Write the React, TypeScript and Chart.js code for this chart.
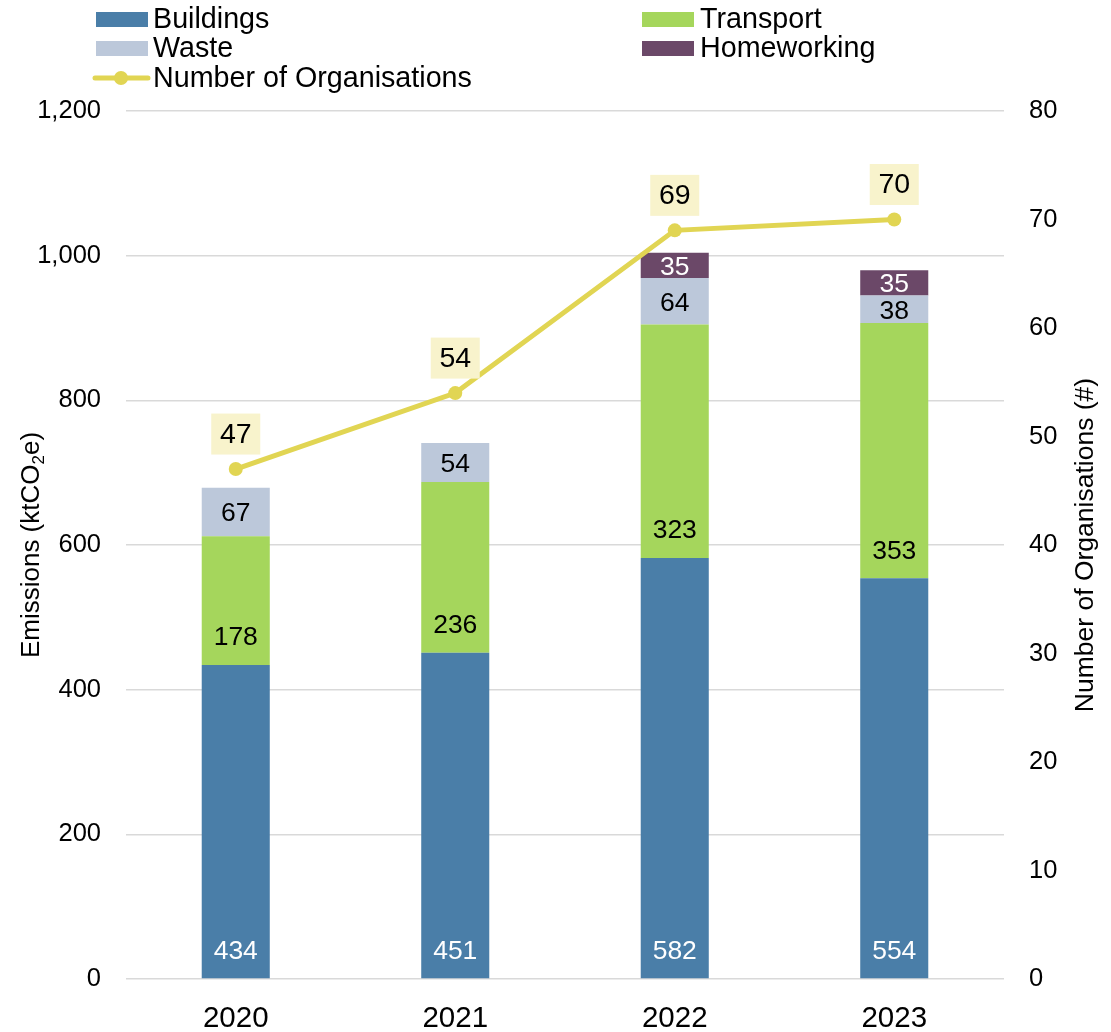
import { useEffect, useRef } from 'react';
import { Chart, registerables } from 'chart.js';
Chart.register(...registerables);

const categories = ['2020', '2021', '2022', '2023'];
const buildings = [434, 451, 582, 554];
const transport = [178, 236, 323, 353];
const waste = [67, 54, 64, 38];
const homeworking: (number | null)[] = [null, null, 35, 35];
const organisations = [47, 54, 69, 70];

const FONT = "'Liberation Sans', Arial, sans-serif";
const C_BUILD = '#4A7EA8';
const C_TRANS = '#A5D65C';
const C_WASTE = '#BCC8DA';
const C_HOME = '#6B4868';
const C_LINE = '#E1D553';
const C_LABELBG = '#F8F3CC';

const labelsPlugin = {
  id: 'customLabels',
  afterDatasetsDraw(chart: any) {
    const ctx = chart.ctx;
    ctx.save();
    ctx.textAlign = 'center';
    ctx.textBaseline = 'middle';
    const barSets = [
      { idx: 1, color: '#fff', mode: 'base' },
      { idx: 2, color: '#000', mode: 'base' },
      { idx: 3, color: '#000', mode: 'center' },
      { idx: 4, color: '#fff', mode: 'center' },
    ];
    ctx.font = `26.5px ${FONT}`;
    for (const s of barSets) {
      const meta = chart.getDatasetMeta(s.idx);
      const ds = chart.data.datasets[s.idx];
      meta.data.forEach((el: any, j: number) => {
        const v = ds.data[j];
        if (v === null || v === undefined) return;
        const y = s.mode === 'base' ? el.base - 27 : (el.y + el.base) / 2 + 2;
        ctx.fillStyle = s.color;
        ctx.fillText(String(v), el.x, y);
      });
    }
    const lmeta = chart.getDatasetMeta(0);
    const lds = chart.data.datasets[0];
    ctx.font = `28.5px ${FONT}`;
    lmeta.data.forEach((el: any, j: number) => {
      const v = lds.data[j];
      const cy = el.y - 35;
      ctx.fillStyle = C_LABELBG;
      ctx.fillRect(el.x - 24.5, cy - 20.5, 49, 41);
      ctx.fillStyle = '#000';
      ctx.fillText(String(v), el.x, cy + 1);
    });
    ctx.restore();
  },
  afterDraw(chart: any) {
    const ctx = chart.ctx;
    ctx.save();
    // legend
    ctx.font = `28.7px ${FONT}`;
    ctx.textAlign = 'left';
    ctx.textBaseline = 'middle';
    const items = [
      { x: 96, y: 19.5, color: C_BUILD, text: 'Buildings', tx: 153 },
      { x: 96, y: 48.5, color: C_WASTE, text: 'Waste', tx: 153 },
      { x: 642, y: 19.5, color: C_TRANS, text: 'Transport', tx: 700 },
      { x: 642, y: 48.5, color: C_HOME, text: 'Homeworking', tx: 700 },
    ];
    for (const it of items) {
      ctx.fillStyle = it.color;
      ctx.fillRect(it.x, it.y - 7.5, 52, 15);
      ctx.fillStyle = '#000';
      ctx.fillText(it.text, it.tx, it.y + 1);
    }
    ctx.strokeStyle = C_LINE;
    ctx.lineWidth = 5;
    ctx.lineCap = 'round';
    ctx.beginPath();
    ctx.moveTo(95, 78);
    ctx.lineTo(148, 78);
    ctx.stroke();
    ctx.fillStyle = C_LINE;
    ctx.beginPath();
    ctx.arc(121, 78, 7, 0, Math.PI * 2);
    ctx.fill();
    ctx.fillStyle = '#000';
    ctx.fillText('Number of Organisations', 153, 79);

    // axis titles
    const midY = (chart.chartArea.top + chart.chartArea.bottom) / 2;
    // left
    ctx.save();
    ctx.translate(32, midY);
    ctx.rotate(-Math.PI / 2);
    const p1 = 'Emissions (ktCO';
    const p2 = '2';
    const p3 = 'e)';
    ctx.font = `26px ${FONT}`;
    const w1 = ctx.measureText(p1).width;
    const w3 = ctx.measureText(p3).width;
    ctx.font = `17px ${FONT}`;
    const w2 = ctx.measureText(p2).width;
    const total = w1 + w2 + w3;
    const x0 = -total / 2;
    ctx.textAlign = 'left';
    ctx.fillStyle = '#000';
    ctx.font = `26px ${FONT}`;
    ctx.fillText(p1, x0, 0);
    ctx.font = `17px ${FONT}`;
    ctx.fillText(p2, x0 + w1, 7);
    ctx.font = `26px ${FONT}`;
    ctx.fillText(p3, x0 + w1 + w2, 0);
    ctx.restore();
    // right
    ctx.save();
    ctx.translate(1086, midY);
    ctx.rotate(-Math.PI / 2);
    ctx.textAlign = 'center';
    ctx.fillStyle = '#000';
    ctx.font = `26.5px ${FONT}`;
    ctx.fillText('Number of Organisations (#)', 0, 0);
    ctx.restore();

    ctx.restore();
  },
};

export default function App() {
  const ref = useRef<HTMLCanvasElement>(null);
  useEffect(() => {
    if (!ref.current) return;
    const chart = new Chart(ref.current, {
      type: 'bar',
      data: {
        labels: categories,
        datasets: [
          {
            type: 'line',
            label: 'Number of Organisations',
            data: organisations,
            yAxisID: 'y1',
            borderColor: C_LINE,
            backgroundColor: C_LINE,
            borderWidth: 5,
            pointRadius: 7,
            pointBackgroundColor: C_LINE,
            pointBorderWidth: 0,
            tension: 0,
            order: 0,
          } as any,
          { label: 'Buildings', data: buildings, backgroundColor: C_BUILD, stack: 's', order: 1, barPercentage: 0.31, categoryPercentage: 1 },
          { label: 'Transport', data: transport, backgroundColor: C_TRANS, stack: 's', order: 1, barPercentage: 0.31, categoryPercentage: 1 },
          { label: 'Waste', data: waste, backgroundColor: C_WASTE, stack: 's', order: 1, barPercentage: 0.31, categoryPercentage: 1 },
          { label: 'Homeworking', data: homeworking, backgroundColor: C_HOME, stack: 's', order: 1, barPercentage: 0.31, categoryPercentage: 1 },
        ],
      },
      options: {
        animation: false,
        responsive: true,
        maintainAspectRatio: false,
        layout: { padding: { top: 111, left: 0, right: 0, bottom: 0 } },
        plugins: { legend: { display: false }, tooltip: { enabled: false }, title: { display: false } },
        scales: {
          x: {
            stacked: true,
            grid: { display: false, drawTicks: false },
            border: { display: false },
            ticks: { color: '#000', font: { family: FONT, size: 29.5 }, padding: 22 },
            afterFit: (s: any) => { s.height = 53; },
          },
          y: {
            stacked: true,
            min: 0,
            max: 1200,
            position: 'left',
            grid: { color: '#D9D9D9', lineWidth: 1.5, drawTicks: false },
            border: { display: false },
            ticks: {
              stepSize: 200,
              color: '#000',
              font: { family: FONT, size: 25.5 },
              padding: 25,
              callback: (v: any) => Number(v).toLocaleString('en-US'),
            },
            afterFit: (s: any) => { s.width = 126; },
          },
          y1: {
            min: 0,
            max: 80,
            position: 'right',
            grid: { display: false, drawTicks: false },
            border: { display: false },
            ticks: { stepSize: 10, color: '#000', font: { family: FONT, size: 25.5 }, padding: 25 },
            afterFit: (s: any) => { s.width = 107; },
          },
        },
      },
      plugins: [labelsPlugin],
    });
    return () => chart.destroy();
  }, []);
  return (
    <div style={{ position: 'absolute', left: 0, top: 0, width: 1111, height: 1032, background: '#fff' }}>
      <canvas ref={ref} />
    </div>
  );
}
